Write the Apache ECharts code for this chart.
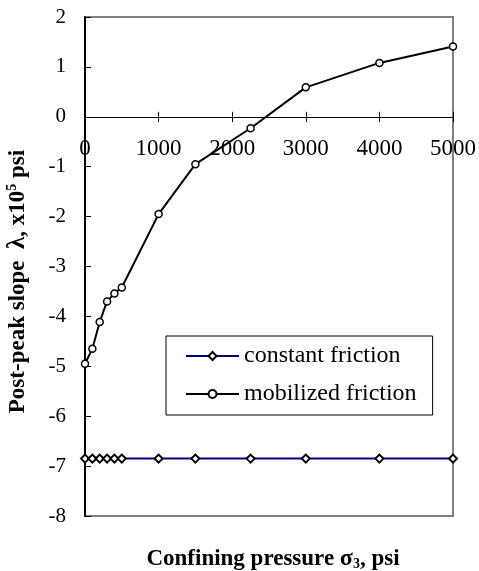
<!DOCTYPE html>
<html>
<head>
<meta charset="utf-8">
<script src="https://cdn.jsdelivr.net/npm/echarts@6/dist/echarts.min.js"></script>
<style>
  html, body { margin: 0; padding: 0; background: #fff; }
  #Chart { width: 479px; height: 571px; }
</style>
</head>
<body>
<div id="Chart"></div>
<script>
var pressure = [0, 100, 200, 300, 400, 500, 1000, 1500, 2250, 3000, 4000, 5000];
var mobilized = [-4.95, -4.65, -4.11, -3.70, -3.54, -3.42, -1.95, -0.95, -0.23, 0.59, 1.08, 1.41];
var constant = [-6.85, -6.85, -6.85, -6.85, -6.85, -6.85, -6.85, -6.85, -6.85, -6.85, -6.85, -6.85];
var seriesNames = ['constant friction', 'mobilized friction'];

var Chart = echarts.init(document.getElementById('Chart'));
var font = 'Liberation Serif, Times New Roman, serif';

function pairs(xs, ys) {
    var out = [];
    for (var i = 0; i < xs.length; i++) out.push([xs[i], ys[i]]);
    return out;
}

var option = {
    animation: false,
    backgroundColor: '#fff',
    textStyle: { fontFamily: font, color: '#000' },
    title: {
        text: '{b|Confining pressure }{s|σ}{sub|3}{b|, psi}',
        left: 268,
        top: 542,
        textAlign: 'center',
        textStyle: {
            rich: {
                b: { fontFamily: font, fontSize: 23, fontWeight: 'bold', color: '#000' },
                s: { fontFamily: font, fontSize: 24, fontWeight: 'bold', color: '#000' },
                sub: { fontFamily: font, fontSize: 14, fontWeight: 'bold', color: '#000', padding: [10, 0, 0, 0] }
            }
        }
    },
    grid: [
        {
            left: 85, right: 26, top: 17, bottom: 55,
            outerBoundsMode: 'none',
            show: true,
            borderColor: '#808080',
            borderWidth: 2
        },
        // upper band ending at y = 0, only used to carry the x tick labels under the zero line
        { left: 85, right: 26, top: 17, bottom: 454, outerBoundsMode: 'none' }
    ],
    legend: {
        data: seriesNames,
        orient: 'vertical',
        left: 166,
        top: 336,
        padding: [8, 16, 9, 19],
        itemWidth: 53,
        itemHeight: 10,
        itemGap: 14,
        backgroundColor: '#fff',
        borderColor: '#000',
        borderWidth: 1,
        borderRadius: 0,
        textStyle: { fontFamily: font, fontSize: 24, color: '#000', lineHeight: 24 }
    },
    xAxis: [
        {
            type: 'value',
            gridIndex: 0,
            min: 0,
            max: 5000,
            interval: 1000,
            axisLine: { onZero: true, lineStyle: { color: '#000', width: 1 } },
            axisTick: { show: true, inside: true, length: 5, lineStyle: { color: '#000' } },
            axisLabel: { show: false },
            splitLine: { show: false }
        },
        {
            type: 'value',
            gridIndex: 1,
            position: 'bottom',
            min: 0,
            max: 5000,
            interval: 1000,
            axisLine: { show: false, onZero: false },
            axisTick: { show: true, inside: false, length: 5, lineStyle: { color: '#000' } },
            axisLabel: {
                fontFamily: font, fontSize: 23, color: '#000', margin: 20,
                formatter: function (v) { return String(v); }
            },
            splitLine: { show: false }
        }
    ],
    yAxis: [
        {
            type: 'value',
            gridIndex: 0,
            min: -8,
            max: 2,
            interval: 1,
            name: '{b|Post-peak slope  }{l|λ}{b|, x10}{sup|5}{b| psi}',
            nameLocation: 'middle',
            nameGap: 54,
            nameRotate: 90,
            nameTextStyle: {
                padding: [0, 30, 0, 0],
                rich: {
                    b: { fontFamily: font, fontSize: 23, fontWeight: 'bold', color: '#000' },
                    l: { fontFamily: font, fontSize: 25, fontWeight: 'bold', color: '#000' },
                    sup: { fontFamily: font, fontSize: 14, fontWeight: 'bold', color: '#000', padding: [0, 0, 12, 0] }
                }
            },
            axisLine: { show: true, lineStyle: { color: '#000', width: 2 } },
            axisTick: { show: true, inside: true, length: 6, lineStyle: { color: '#000' } },
            axisLabel: { fontFamily: font, fontSize: 21, color: '#000', margin: 19 },
            splitLine: { show: false }
        },
        {
            type: 'value',
            gridIndex: 1,
            min: 0,
            max: 1,
            show: false
        }
    ],
    series: [
        {
            name: seriesNames[0],
            type: 'line',
            data: pairs(pressure, constant),
            symbol: 'diamond',
            symbolSize: 8,
            lineStyle: { color: '#000080', width: 2 },
            itemStyle: { color: '#fff', borderColor: '#000', borderWidth: 2 }
        },
        {
            name: seriesNames[1],
            type: 'line',
            data: pairs(pressure, mobilized),
            symbol: 'circle',
            symbolSize: 7,
            lineStyle: { color: '#000', width: 2 },
            itemStyle: { color: '#fff', borderColor: '#000', borderWidth: 1.5 }
        }
    ]
};

Chart.setOption(option);

window.addEventListener('resize', function () {
    Chart.resize();
});
</script>
</body>
</html>
